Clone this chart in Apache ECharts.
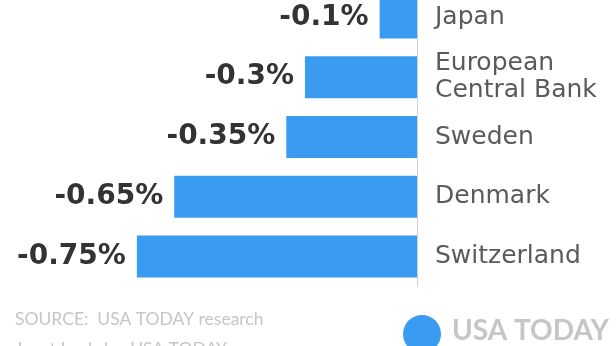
<!DOCTYPE html>
<html><head><meta charset="utf-8">
<script src="https://cdn.jsdelivr.net/npm/echarts@6/dist/echarts.min.js"></script>
<style>html,body{margin:0;padding:0;background:#fff}#c{width:616px;height:346px}</style>
</head><body><div id="c"></div>
<script>
const categories = ['Japan', 'European\nCentral Bank', 'Sweden', 'Denmark', 'Switzerland'];
const rates = [-0.1, -0.3, -0.35, -0.65, -0.75];
const rateLabels = ['-0.1%', '-0.3%', '-0.35%', '-0.65%', '-0.75%'];
const sourceText = 'SOURCE:  USA TODAY research';
const creditText = 'Janet Loehrke, USA TODAY';
const logoText = 'USA TODAY';

const chart = echarts.init(document.getElementById('c'));
chart.setOption({
  animation: false,
  grid: { left: 43.5, right: 199, top: -12.5, height: 299, outerBoundsMode: 'none', containLabel: false },
  xAxis: { type: 'value', min: -1, max: 0, show: false },
  yAxis: {
    type: 'category', data: categories, inverse: true, position: 'right',
    axisLine: { show: true, lineStyle: { color: '#d0d0d0', width: 1 } },
    axisTick: { show: false },
    axisLabel: { margin: 18, align: 'left', color: '#5a5a5a', fontSize: 25, fontFamily: 'DejaVu Sans', lineHeight: 27 }
  },
  series: [{
    type: 'bar', data: rates, barWidth: 42,
    itemStyle: { color: '#3a9cf0' },
    label: {
      show: true, position: 'left', distance: 11,
      formatter: p => rateLabels[p.dataIndex],
      color: '#333', fontSize: 28, fontWeight: 'bold', fontFamily: 'DejaVu Sans'
    }
  }],
  graphic: [
    { type: 'text', left: 15, top: 310, style: { text: sourceText, fill: '#c6c6c6', fontSize: 17.5, fontFamily: 'Lato' } },
    { type: 'text', left: 15, top: 340, style: { text: creditText, fill: '#c6c6c6', fontSize: 17.5, fontFamily: 'Lato' } },
    { type: 'circle', shape: { cx: 422, cy: 334, r: 19 }, style: { fill: '#3a9cf0' } },
    { type: 'text', left: 452, top: 317, style: { text: logoText, fill: '#c6c6c6', fontSize: 28, fontWeight: 'bold', fontFamily: 'Lato' } }
  ]
});
</script></body></html>
